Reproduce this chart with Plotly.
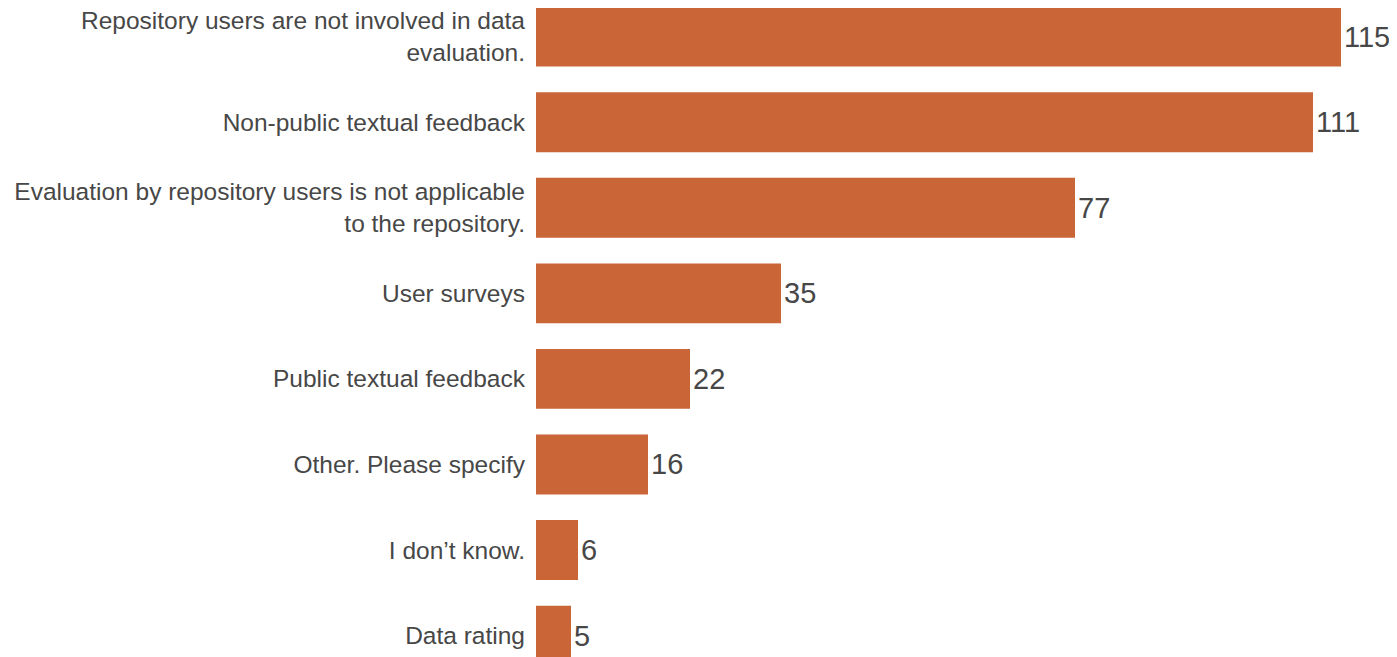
import plotly.graph_objects as go

categories = [
    "Repository users are not involved in data<br>evaluation.",
    "Non-public textual feedback",
    "Evaluation by repository users is not applicable<br>to the repository.",
    "User surveys",
    "Public textual feedback",
    "Other. Please specify",
    "I don’t know.",
    "Data rating",
]
values = [115, 111, 77, 35, 22, 16, 6, 5]

FONT = "Liberation Sans, Arial, sans-serif"

fig = go.Figure(go.Bar(
    x=values, y=categories, orientation="h",
    marker=dict(color="#C96536", line=dict(width=0)),
    width=0.70,
    text=[str(v) for v in values], textposition="outside",
    textfont=dict(size=29, color="#474747", family=FONT),
    cliponaxis=False,
))

fig.update_layout(
    width=1389, height=649,
    margin=dict(l=528, r=0, t=0, b=0),
    plot_bgcolor="white", paper_bgcolor="white",
    showlegend=False,
    font=dict(family=FONT, color="#474747"),
    xaxis=dict(range=[0, 123], visible=False, showgrid=False, zeroline=False),
    yaxis=dict(range=[7.25, -0.335], showgrid=False, zeroline=False, showline=False,
               ticks="", tickfont=dict(size=24.5, color="#474747"), ticklabelstandoff=10),
    bargap=0.3,
)

fig.write_html("out.html")
